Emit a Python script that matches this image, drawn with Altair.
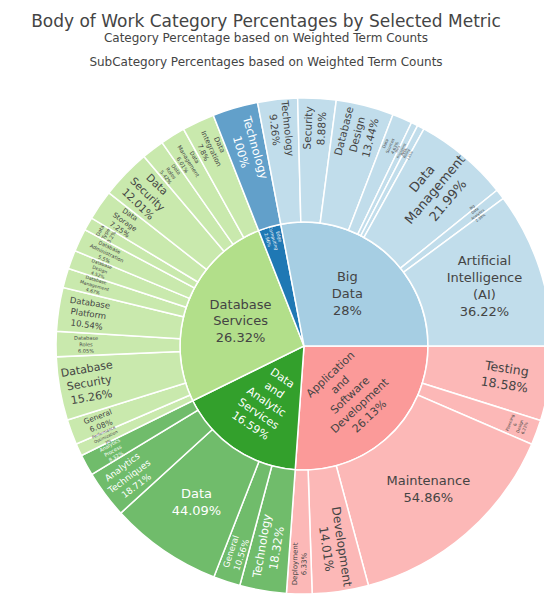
import math
import altair as alt
import pandas as pd

# ---------------- data ----------------
categories = ["Big Data", "Edge Computing", "Database Services",
              "Data and Analytic Services", "Application and Software Development"]
category_pct = [28, 2.96, 26.32, 16.59, 26.13]
category_colors = ["#a6cee3", "#1f78b4", "#b2df8a", "#33a02c", "#fb9a99"]

bigdata_labels = ["Artificial Intelligence (AI)", "Big Data Analytics", "Data Management",
                  "Data Mining", "Data Processing", "Data Sources", "Database Design",
                  "Security", "Technology"]
bigdata_pct = [36.22, 2.38, 21.99, 1.65, 1.55, 4.63, 13.44, 8.88, 9.26]

edge_labels = ["Technology"]
edge_pct = [100]

dbs_labels = ["Data Integration", "Data Management", "Data Roles", "Data Security",
              "Data Storage", "Data Type", "Database Administration", "Database Design",
              "Database Management", "Database Platform", "Database Roles",
              "Database Security", "General", "Performance Optimization"]
dbs_pct = [7.8, 6.01, 5.42, 12.01, 7.25, 3.2, 5.5, 4.52, 4.67, 10.54, 6.05, 15.26, 6.08, 3]

da_labels = ["Analytics Process", "Analytics Techniques", "Data", "General", "Technology"]
da_pct = [8.32, 18.71, 44.09, 10.56, 18.32]

app_labels = ["Deployment", "Development", "Maintenance", "Planning & Design", "Testing"]
app_pct = [6.33, 14.01, 54.86, 6.22, 18.58]

sub_labels = [bigdata_labels, edge_labels, dbs_labels, da_labels, app_labels]
sub_pcts = [bigdata_pct, edge_pct, dbs_pct, da_pct, app_pct]

# ---------------- label styles (orientation, font size) ----------------
inner_style = {
    "Big Data": ("h", 13),
    "Edge Computing": ("r", 4.5),
    "Database Services": ("h", 13),
    "Data and Analytic Services": ("t", 11),
    "Application and Software Development": ("t", 11),
}
outer_style = {
    ("Big Data", "Artificial Intelligence (AI)"): ("h", 13),
    ("Big Data", "Big Data Analytics"): ("r", 3.5),
    ("Big Data", "Data Management"): ("R", 13),
    ("Big Data", "Data Mining"): ("r", 3),
    ("Big Data", "Data Processing"): ("r", 3),
    ("Big Data", "Data Sources"): ("r", 4),
    ("Big Data", "Database Design"): ("r", 10.5),
    ("Big Data", "Security"): ("r", 10.5),
    ("Big Data", "Technology"): ("r", 10),
    ("Edge Computing", "Technology"): ("R", 11.5),
    ("Database Services", "Data Integration"): ("r", 7),
    ("Database Services", "Data Management"): ("r", 5.5),
    ("Database Services", "Data Roles"): ("r", 5),
    ("Database Services", "Data Security"): ("r", 10.5),
    ("Database Services", "Data Storage"): ("r", 7),
    ("Database Services", "Data Type"): ("t", 5),
    ("Database Services", "Database Administration"): ("r", 5),
    ("Database Services", "Database Design"): ("r", 4.5),
    ("Database Services", "Database Management"): ("r", 4.5),
    ("Database Services", "Database Platform"): ("r", 8.5),
    ("Database Services", "Database Roles"): ("r", 5),
    ("Database Services", "Database Security"): ("r", 11),
    ("Database Services", "General"): ("r", 7.5),
    ("Database Services", "Performance Optimization"): ("r", 4),
    ("Data and Analytic Services", "Analytics Process"): ("r", 5),
    ("Data and Analytic Services", "Analytics Techniques"): ("r", 9),
    ("Data and Analytic Services", "Data"): ("h", 13),
    ("Data and Analytic Services", "General"): ("r", 8.5),
    ("Data and Analytic Services", "Technology"): ("R", 11.5),
    ("Application and Software Development", "Deployment"): ("r", 7),
    ("Application and Software Development", "Development"): ("R", 12),
    ("Application and Software Development", "Maintenance"): ("h", 13),
    ("Application and Software Development", "Planning & Design"): ("t", 4),
    ("Application and Software Development", "Testing"): ("R", 12.5),
}
dark_categories = {"Edge Computing", "Data and Analytic Services"}


def fmt(p):
    return f"{p:g}"


def rotation(mid, orient):
    theta = 90 + mid * 3.6          # clockwise from 12 o'clock, start at 3 o'clock
    if orient == "h":
        r = 0.0
    elif orient in ("r", "R"):
        r = (theta % 180) - 90
    else:
        r = ((theta + 90) % 180) - 90
    return r % 360


# build tables: plotly draws counter-clockwise from 3 o'clock, we go clockwise
inner_rows, outer_rows = [], []
cum = 0.0
for ci in reversed(range(len(categories))):
    cat = categories[ci]
    cp = category_pct[ci]
    s0, e0 = cum, cum + cp
    o, fs = inner_style[cat]
    inner_rows.append(dict(cat=cat, start=s0, end=e0, mid=(s0 + e0) / 2,
                           txt="|".join(cat.split(" ") + [fmt(cp) + "%"]),
                           orient=o, fs=fs, rot=rotation((s0 + e0) / 2, o),
                           tc="white" if cat in dark_categories else "#444"))
    tot = sum(sub_pcts[ci])
    c = s0
    for name, p in reversed(list(zip(sub_labels[ci], sub_pcts[ci]))):
        v = cp * p / tot
        o, fs = outer_style[(cat, name)]
        outer_rows.append(dict(cat=cat, sub=name, start=c, end=c + v, mid=c + v / 2,
                               txt="|".join(name.split(" ") + [fmt(p) + "%"]),
                               orient=o, fs=fs, rot=rotation(c + v / 2, o),
                               tc="white" if cat in dark_categories else "#444"))
        c += v
    cum = e0

inner_df = pd.DataFrame(inner_rows)
outer_df = pd.DataFrame(outer_rows)

R1, R2 = 124, 248
LH = 1.3
theta_scale = alt.Scale(domain=[0, 100], range=[math.pi / 2, math.pi / 2 + 2 * math.pi])
color_scale = alt.Scale(domain=categories, range=category_colors)

inner_arc = alt.Chart(inner_df).mark_arc(
    innerRadius=0, outerRadius=R1, stroke="white", strokeWidth=1.5
).encode(
    theta=alt.Theta("start:Q", scale=theta_scale, stack=None),
    theta2="end:Q",
    color=alt.Color("cat:N", scale=color_scale, legend=None),
)

outer_arc = alt.Chart(outer_df).mark_arc(
    innerRadius=R1, outerRadius=R2, stroke="white", strokeWidth=1.5, fillOpacity=0.7
).encode(
    theta=alt.Theta("start:Q", scale=theta_scale, stack=None),
    theta2="end:Q",
    color=alt.Color("cat:N", scale=color_scale, legend=None),
)


def text_layer(df, orients, radius):
    sub = df[df["orient"].isin(orients)]
    return alt.Chart(sub).transform_calculate(
        lines="split(datum.txt, '|')"
    ).mark_text(
        radius=radius, font="DejaVu Sans", align="center", baseline="middle",
        lineHeight={"expr": f"datum.fs * {LH}"},
        dy={"expr": f"-(length(datum.lines) - 1) / 2 * datum.fs * {LH}"},
    ).encode(
        theta=alt.Theta("mid:Q", scale=theta_scale, stack=None),
        text=alt.Text("lines:N"),
        size=alt.Size("fs:Q", scale=None, legend=None),
        angle=alt.Angle("rot:Q", scale=None),
        fill=alt.Fill("tc:N", scale=None, legend=None),
    )


layers = [
    inner_arc, outer_arc,
    text_layer(inner_df, ["h", "t"], 68),
    text_layer(inner_df, ["r"], 112),
    text_layer(outer_df, ["h"], 190),
    text_layer(outer_df, ["R"], 204),
    text_layer(outer_df, ["r"], 218),
    text_layer(outer_df, ["t"], 228),
]

chart = alt.layer(*layers).resolve_scale(
    color="shared", fill="independent", size="independent", angle="independent"
).properties(
    width=480, height=496,
    padding={"left": 56, "top": 90, "right": 0, "bottom": 0},
    autosize=alt.AutoSizeParams(type="none"),
    background="white",
    title=alt.Title(
        text="Body of Work Category Percentages by Selected Metric",
        subtitle=["Category Percentage based on Weighted Term Counts",
                  "SubCategory Percentages based on Weighted Term Counts"],
        font="DejaVu Sans", fontSize=17, fontWeight="normal", color="#444",
        subtitleFont="DejaVu Sans", subtitleFontSize=12, subtitleColor="#444",
        subtitleLineHeight=24, subtitlePadding=2,
        anchor="middle", frame="group", dx=-38, offset=26,
    ),
).configure_view(stroke=None)

chart.save("out.html", embed_options={"renderer": "svg", "actions": False})
